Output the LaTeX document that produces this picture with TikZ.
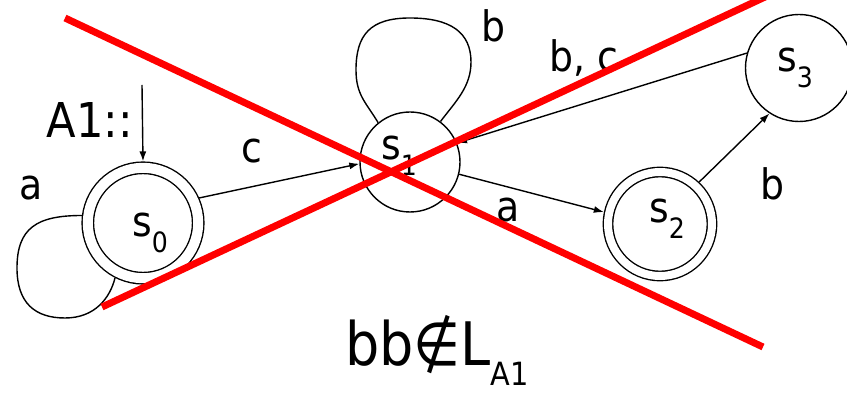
\documentclass[tikz,border=0pt]{standalone}
\usepackage{fontspec}
\setmainfont{DejaVu Sans}[FakeStretch=0.9]
\usetikzlibrary{arrows.meta}
\newcommand\lsub[1]{\raisebox{-0.36em}{\fontsize{28}{28}\selectfont #1}}
\tikzset{
  state/.style={draw, circle, line width=1.4pt, inner sep=0pt},
  accepting/.style={state, double, double distance=10pt, outer sep=6.4pt},
  txt/.style={inner sep=0pt, font=\fontsize{42}{42}\selectfont},
  arr/.style={line width=1.4pt, -{Latex[length=10pt,width=7pt]}},
  loopline/.style={line width=1.4pt},
  cross/.style={line width=7pt, draw={rgb,255:red,255;green,0;blue,0}}
}
\begin{document}
\begin{tikzpicture}[x=1pt, y=-1pt]
\useasboundingbox (0,0) rectangle (847,395);
% states
\node[accepting, minimum size=110.4pt] (s0) at (143,223) {};
\node[state, minimum size=100pt] (s1) at (410,162) {};
\node[accepting, double distance=8pt, outer sep=5.4pt, minimum size=104pt] (s2) at (660,224) {};
\node[state, minimum size=107pt] (s3) at (799,68) {};
% state texts
\node[txt, anchor=base] (t0) at (150,237) {s\lsub{0}};
\node[txt, anchor=base] (t1) at (399,160) {s\lsub{1}};
\node[txt, anchor=base] (t2) at (667,223) {s\lsub{2}};
\node[txt, anchor=base] (t3) at (795,72) {s\lsub{3}};
% initial arrow
\coordinate (init) at (142,85);
\draw[arr] (init) -- (s0.north);
\node[txt, anchor=base, font=\fontsize{48}{48}\selectfont] (a1) at (90,138) {A1::};
% transitions
\draw[arr] (s0.24) -- (s1.182);
\draw[arr] (s1.346) -- (s2.168);
\draw[arr] (s3.164) -- (s1.22);
\draw[arr] (s2.47) -- (s3.237);
% self loops
\draw[loopline] (s0.173) .. controls +(-45,0) and +(0,-40) .. (17,268)
  .. controls +(0,35) and +(-30,0) .. (65,318)
  .. controls +(30,0) and +(-5,20) .. (s0.243);
\draw[loopline] (s1.129) .. controls +(-12,-20) and +(0,25) .. (356,70)
  .. controls +(0,-35) and +(-40,0) .. (410,18)
  .. controls +(40,0) and +(0,-30) .. (471,62)
  .. controls +(0,25) and +(15,-20) .. (s1.53);
% labels
\node[txt, anchor=base] (la0) at (31,200) {a};
\node[txt, anchor=base] (lc) at (252,163) {c};
\node[txt, anchor=base] (lb1) at (493,42) {b};
\node[txt, anchor=base] (lbc) at (584,72) {b, c};
\node[txt, anchor=base] (la1) at (508,222) {a};
\node[txt, anchor=base] (lb2) at (772,200) {b};
\node[txt, anchor=base west, font=\fontsize{60}{60}\selectfont] (res) at (345,366)
  {bb∉L\raisebox{-0.33em}{\fontsize{32}{32}\selectfont A1}};
% red crossing lines
\begin{scope}
\clip (0,0) rectangle (847,395);
\draw[cross] (65,18) -- (763,347);
\draw[cross] (102,307) -- (780,-10);
\end{scope}
\end{tikzpicture}
\end{document}
